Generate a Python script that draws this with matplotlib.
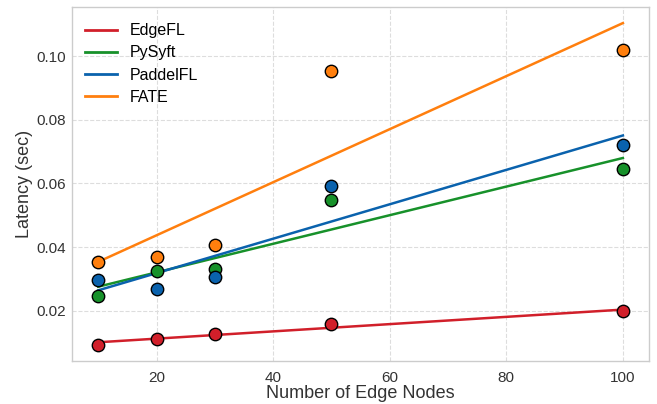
import numpy as np
import matplotlib.pyplot as plt

nodes = [10, 20, 30, 50, 100]
edgefl = [0.0093, 0.0112, 0.0127, 0.0159, 0.0198]
pysyft = [0.0248, 0.0325, 0.0330, 0.0549, 0.0646]
paddlefl = [0.0298, 0.0270, 0.0306, 0.0591, 0.0722]
fate = [0.0355, 0.0368, 0.0408, 0.0954, 0.1018]

names = ['EdgeFL', 'PySyft', 'PaddelFL', 'FATE']
colors = ['#d11f2a', '#17912a', '#0a62ad', '#ff7f0e']

plt.rcParams['font.family'] = ['Liberation Sans', 'DejaVu Sans']

fig, ax = plt.subplots(figsize=(6.57, 4.04), dpi=100)
fig.subplots_adjust(left=0.1096, right=0.988, top=0.9827, bottom=0.1064)

x = np.array(nodes)
for name, ys, c in zip(names, [edgefl, pysyft, paddlefl, fate], colors):
    k, b = np.polyfit(x, ys, 1)
    ax.plot(x, k * x + b, color=c, lw=1.8, label=name, zorder=2)
    ax.scatter(x, ys, s=80, color=c, edgecolors='black', linewidths=1.0, zorder=3)

ax.set_xlabel('Number of Edge Nodes', fontsize=13, color='#333333', labelpad=0)
ax.set_ylabel('Latency (sec)', fontsize=13, color='#333333', labelpad=3)
ax.set_xticks([20, 40, 60, 80, 100])
ax.set_yticks([0.02, 0.04, 0.06, 0.08, 0.10])
ax.set_yticklabels(['0.02', '0.04', '0.06', '0.08', '0.10'])
ax.tick_params(labelsize=11, colors='#333333', length=0)
ax.tick_params(axis='x', pad=7)
ax.tick_params(axis='y', pad=4)
ax.grid(True, ls='--', color='#dddddd', lw=0.8)
ax.set_axisbelow(True)
for s in ax.spines.values():
    s.set_color('#cccccc')
    s.set_linewidth(1.0)

leg = ax.legend(loc='upper left', bbox_to_anchor=(0.0, 0.99), fontsize=11.5, frameon=False,
                handlelength=2.0, labelspacing=0.45, borderaxespad=0.4, handletextpad=0.8)
for h in leg.get_lines():
    h.set_linewidth(2.0)

fig.savefig('out.png', dpi=100)
